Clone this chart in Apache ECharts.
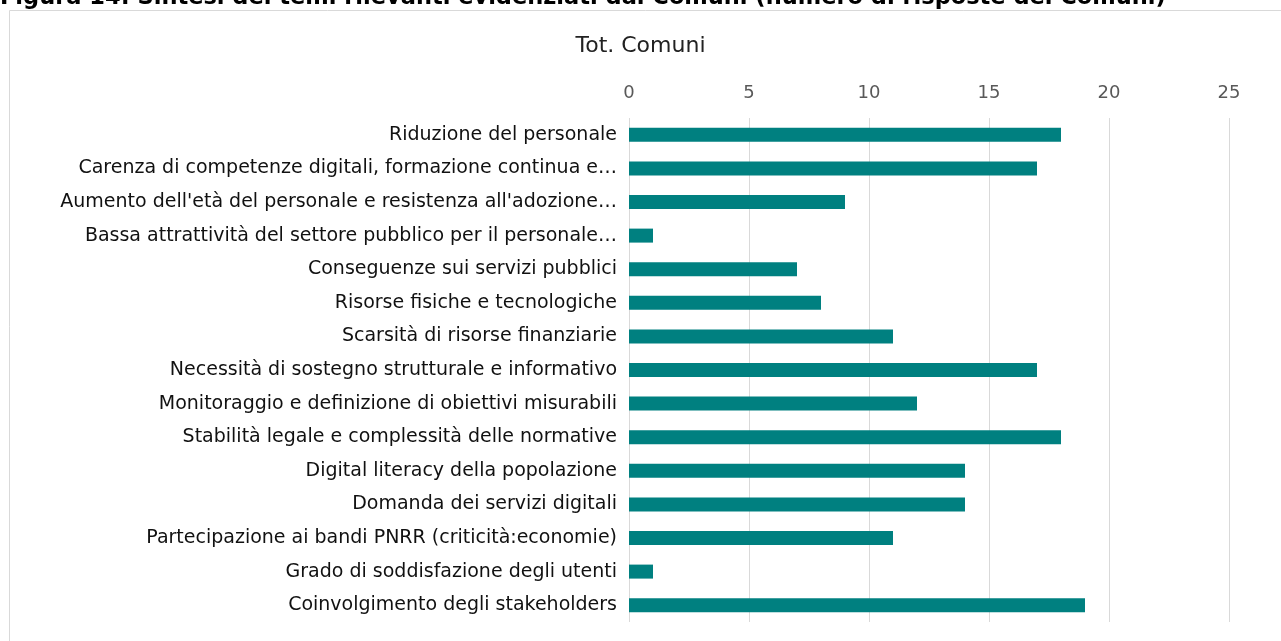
<!DOCTYPE html>
<html>
<head>
<meta charset="utf-8">
<script src="https://cdn.jsdelivr.net/npm/echarts@6/dist/echarts.min.js"></script>
<style>
  html, body { margin: 0; padding: 0; background: #fff; }
  #main { width: 1281px; height: 641px; }
</style>
</head>
<body>
<div id="main"></div>
<script type="text/javascript">
  // temi, dall'alto in basso
  var categories = [
    'Riduzione del personale',
    'Carenza di competenze digitali, formazione continua e…',
    "Aumento dell'età del personale e resistenza all'adozione…",
    'Bassa attrattività del settore pubblico per il personale…',
    'Conseguenze sui servizi pubblici',
    'Risorse fisiche e tecnologiche',
    'Scarsità di risorse finanziarie',
    'Necessità di sostegno strutturale e informativo',
    'Monitoraggio e definizione di obiettivi misurabili',
    'Stabilità legale e complessità delle normative',
    'Digital literacy della popolazione',
    'Domanda dei servizi digitali',
    'Partecipazione ai bandi PNRR (criticità:economie)',
    'Grado di soddisfazione degli utenti',
    'Coinvolgimento degli stakeholders'
  ];
  var totComuni = [18, 17, 9, 1, 7, 8, 11, 17, 12, 18, 14, 14, 11, 1, 19];
  var xTicks = [0, 5, 10, 15, 20, 25];

  var font = '"DejaVu Sans", sans-serif';
  var myChart = echarts.init(document.getElementById('main'));

  var option = {
    animation: false,
    graphic: [
      {
        type: 'rect',
        shape: { x: 9.5, y: 10.5, width: 1290, height: 660 },
        style: { fill: 'none', stroke: '#d9d9d9', lineWidth: 1 }
      },
      {
        type: 'text',
        left: 0,
        top: -13,
        style: {
          text: 'Figura 14: Sintesi dei temi rilevanti evidenziati dai Comuni (numero di risposte dei Comuni)',
          font: 'bold 22.5px "DejaVu Sans", sans-serif',
          fill: '#000'
        }
      },
      {
        type: 'text',
        left: 'center',
        top: 35,
        style: {
          text: 'Tot. Comuni',
          font: '22px ' + font,
          fill: '#222'
        }
      }
    ],
    grid: { left: 629, right: 52, top: 118, bottom: 19 },
    xAxis: {
      type: 'value',
      position: 'top',
      min: xTicks[0],
      max: xTicks[xTicks.length - 1],
      interval: 5,
      axisLine: { show: false },
      axisTick: { show: false },
      axisLabel: { color: '#595959', fontSize: 18, fontFamily: font, margin: 16 },
      splitLine: { lineStyle: { color: '#d9d9d9', width: 1 } }
    },
    yAxis: {
      type: 'category',
      inverse: true,
      data: categories,
      axisLine: { show: false },
      axisTick: { show: false },
      axisLabel: { color: '#111', fontSize: 19, fontFamily: font, margin: 12 }
    },
    series: [
      {
        name: 'Tot. Comuni',
        type: 'bar',
        data: totComuni,
        barWidth: 14,
        itemStyle: { color: '#008080' }
      }
    ]
  };

  myChart.setOption(option);
</script>
</body>
</html>
